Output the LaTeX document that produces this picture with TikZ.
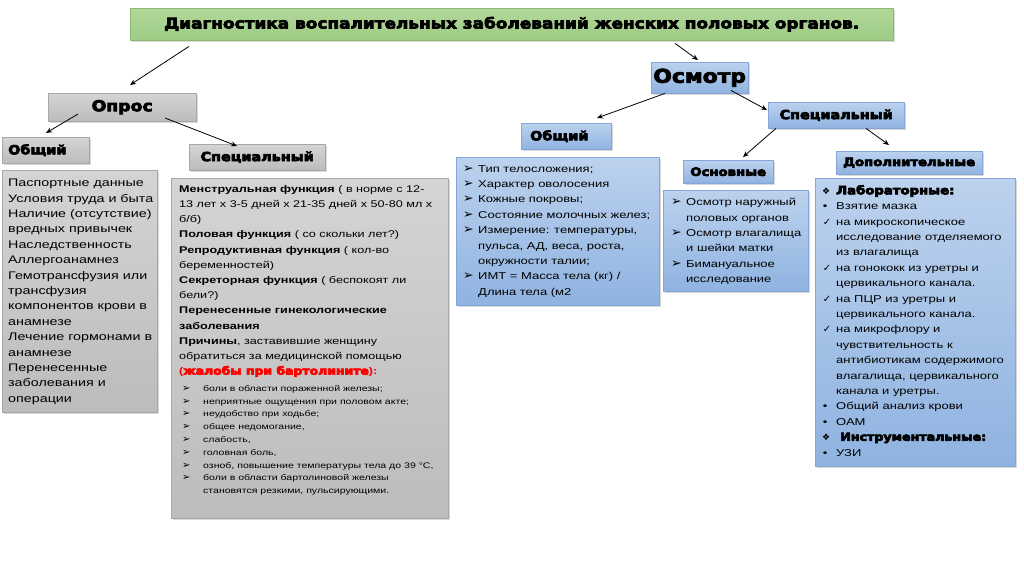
\documentclass[tikz,border=0pt]{standalone}
\usepackage{fontspec}
\setmainfont{Liberation Sans}[FakeStretch=1.3]
\newfontfamily\hvf{DejaVu Sans}[FakeStretch=1.15]
\newcommand\hv{\hvf\bfseries}
\newfontfamily\sym{DejaVu Sans}
\newcommand\heavy[1]{\special{pdf:literal direct 2 Tr 0.7 w}#1\special{pdf:literal direct 0 Tr 0.3985 w}}
\usetikzlibrary{arrows.meta,shadows}
\definecolor{gtop}{HTML}{D4D4D4}
\definecolor{gbot}{HTML}{BCBCBC}
\definecolor{gline}{HTML}{A8A8A8}
\definecolor{btop}{HTML}{BCD2EE}
\definecolor{bbot}{HTML}{8FB3E0}
\definecolor{bline}{HTML}{84A6D8}
\definecolor{ltop}{HTML}{B2D89A}
\definecolor{lbot}{HTML}{9DCB84}
\definecolor{lline}{HTML}{8ABB70}
\definecolor{alarm}{HTML}{FF0000}
\newcommand\mkb[2][15pt]{\makebox[#1][l]{#2}}
\newcommand\ind[1][15pt]{\hspace*{#1}}
\newcommand\arw{{\sym\fontsize{12.5}{12}\selectfont ➢}}
\newcommand\sarw{{\sym\fontsize{10}{10}\selectfont ➢}}
\begin{document}
\begin{tikzpicture}[x=1pt,y=-1pt,
  box/.style={anchor=north west, inner sep=0, drop shadow={shadow xshift=1.5pt,shadow yshift=-1.5pt,opacity=0.3}},
  gbox/.style={box, draw=gline, top color=gtop, bottom color=gbot},
  bbox/.style={box, draw=bline, top color=btop, bottom color=bbot},
  hd/.style={font=\hv\fontsize{#1}{#1}\selectfont},
  txt/.style={anchor=north west, inner sep=0, align=left},
  arr/.style={draw=black, line width=0.8pt, -{Stealth[length=6pt,width=5pt]}}]
\useasboundingbox (0,0) rectangle (1024,574);
\fill[white] (0,0) rectangle (1024,574);

% title
\node[box, draw=lline, top color=ltop, bottom color=lbot, minimum width=763, minimum height=32, hd=14.7] (title) at (130,8) {\heavy{Диагностика воспалительных заболеваний женских половых органов.}};

% left branch
\node[gbox, minimum width=148, minimum height=28, hd=15] (opros) at (48,93) {\heavy{Опрос}};
\node[gbox, minimum width=87, minimum height=26, hd=12.5, inner xsep=6, text width=75, align=left] (obsL) at (2,137) {\heavy{Общий}};
\node[gbox, minimum width=136, minimum height=26, hd=12.5] (specL) at (189,144) {\heavy{Специальный}};
\node[gbox, minimum width=155, minimum height=242] (lbox) at (2,170) {};
\node[gbox, minimum width=277, minimum height=340] (mbox) at (171,178) {};

\node[txt, font=\fontsize{11}{15.4}\selectfont] (ltxt) at ([shift={(6,9)}]lbox.north west) {Паспортные данные\\Условия труда и быта\\Наличие (отсутствие)\\вредных привычек\\Наследственность\\Аллергоанамнез\\Гемотрансфузия или\\трансфузия\\компонентов крови в\\анамнезе\\Лечение гормонами в\\анамнезе\\Перенесенные\\заболевания и\\операции};

\node[txt, font=\fontsize{9.7}{15.2}\selectfont] (mtxt) at ([shift={(8,7)}]mbox.north west) {\textbf{Менструальная функция} ( в норме с 12-\\13 лет х 3-5 дней х 21-35 дней х 50-80 мл х\\б/б)\\\textbf{Половая функция} ( со скольки лет?)\\\textbf{Репродуктивная функция} ( кол-во\\беременностей)\\\textbf{Секреторная функция} ( беспокоят ли\\бели?)\\\textbf{Перенесенные гинекологические}\\\textbf{заболевания}\\\textbf{Причины}, заставившие женщину\\обратиться за медицинской помощью\\\textcolor{alarm}{\textbf{(}{\hv\fontsize{10.8}{15.2}\selectfont\heavy{жалобы при бартолините}}\textbf{):}}};

\node[txt, font=\fontsize{8.1}{12.8}\selectfont] (mbul) at ([shift={(11,207)}]mbox.north west) {\mkb[21pt]{\sarw}боли в области пораженной железы;\\\mkb[21pt]{\sarw}неприятные ощущения при половом акте;\\\mkb[21pt]{\sarw}неудобство при ходьбе;\\\mkb[21pt]{\sarw}общее недомогание,\\\mkb[21pt]{\sarw}слабость,\\\mkb[21pt]{\sarw}головная боль,\\\mkb[21pt]{\sarw}озноб, повышение температуры тела до 39 °С,\\\mkb[21pt]{\sarw}боли в области бартолиновой железы\\\ind[21pt]становятся резкими, пульсирующими.};

% right branch
\node[bbox, minimum width=97, minimum height=31, hd=19] (osmotr) at (651,62) {\heavy{Осмотр}};
\node[bbox, minimum width=136, minimum height=26, hd=12.5] (specR) at (768,102) {\heavy{Специальный}};
\node[bbox, minimum width=90, minimum height=26, hd=12.5, inner xsep=9, text width=72, align=left] (obsR) at (521,123) {\heavy{Общий}};
\node[bbox, minimum width=203, minimum height=148] (rbox) at (456,157) {};
\node[bbox, minimum width=90, minimum height=23, hd=11.5] (osn) at (683,160) {\heavy{Основные}};
\node[bbox, minimum width=145, minimum height=101] (obox) at (663,190) {};
\node[bbox, minimum width=146, minimum height=23, hd=11.5] (dop) at (836,151) {\heavy{Дополнительные}};
\node[bbox, minimum width=200, minimum height=288] (dbox) at (815,178) {};

\node[txt, font=\fontsize{10}{15.4}\selectfont] (rtxt) at ([shift={(7,8)}]rbox.north west) {\mkb{\arw}Тип телосложения;\\\mkb{\arw}Характер оволосения\\\mkb{\arw}Кожные покровы;\\\mkb{\arw}Состояние молочных желез;\\\mkb{\arw}Измерение: температуры,\\\ind пульса, АД, веса, роста,\\\ind окружности талии;\\\mkb{\arw}ИМТ = Масса тела (кг) /\\\ind Длина тела (м2};

\node[txt, font=\fontsize{10}{15.4}\selectfont] (otxt) at ([shift={(8,8)}]obox.north west) {\mkb{\arw}Осмотр наружный\\\ind половых органов\\\mkb{\arw}Осмотр влагалища\\\ind и шейки матки\\\mkb{\arw}Бимануальное\\\ind исследование};

\node[txt, font=\fontsize{10}{15.4}\selectfont] (dtxt) at ([shift={(4,7)}]dbox.north west) {\mkb[17pt]{\sym\small\ ❖}{\hv\fontsize{11.5}{15.4}\selectfont\heavy{Лабораторные:}}\\\mkb[17pt]{\ •}Взятие мазка\\\mkb[17pt]{\ {\sym ✓}}на микроскопическое\\\ind[17pt]исследование отделяемого\\\ind[17pt]из влагалища\\\mkb[17pt]{\ {\sym ✓}}на гонококк из уретры и\\\ind[17pt]цервикального канала.\\\mkb[17pt]{\ {\sym ✓}}на ПЦР из уретры и\\\ind[17pt]цервикального канала.\\\mkb[17pt]{\ {\sym ✓}}на микрофлору и\\\ind[17pt]чувствительность к\\\ind[17pt]антибиотикам содержимого\\\ind[17pt]влагалища, цервикального\\\ind[17pt]канала и уретры.\\\mkb[17pt]{\ •}Общий анализ крови\\\mkb[17pt]{\ •}ОАМ\\\mkb[21pt]{\sym\small\ ❖}{\hv\fontsize{11}{15.4}\selectfont\heavy{Инструментальные:}}\\\mkb[17pt]{\ •}УЗИ};

% connectors
\draw[arr] ([shift={(59,6)}]title.south west) -- ([shift={(82,-8)}]opros.north west);
\draw[arr] ([shift={(545,3)}]title.south west) -- ([shift={(47,-2)}]osmotr.north west);
\draw[arr] ([shift={(30,21)}]opros.north west) -- ([shift={(44,-4)}]obsL.north west);
\draw[arr] ([shift={(117,25)}]opros.north west) -- ([shift={(48,2)}]specL.north west);
\draw[arr] ([shift={(14,0)}]osmotr.south west) -- ([shift={(76,-5)}]obsR.north west);
\draw[arr] ([shift={(80,-3)}]osmotr.south west) -- ([shift={(-1,8)}]specR.north west);
\draw[arr] ([shift={(8,0)}]specR.south west) -- ([shift={(60,-3)}]osn.north west);
\draw[arr] ([shift={(98,0)}]specR.south west) -- ([shift={(53,-6)}]dop.north west);
\end{tikzpicture}
\end{document}
